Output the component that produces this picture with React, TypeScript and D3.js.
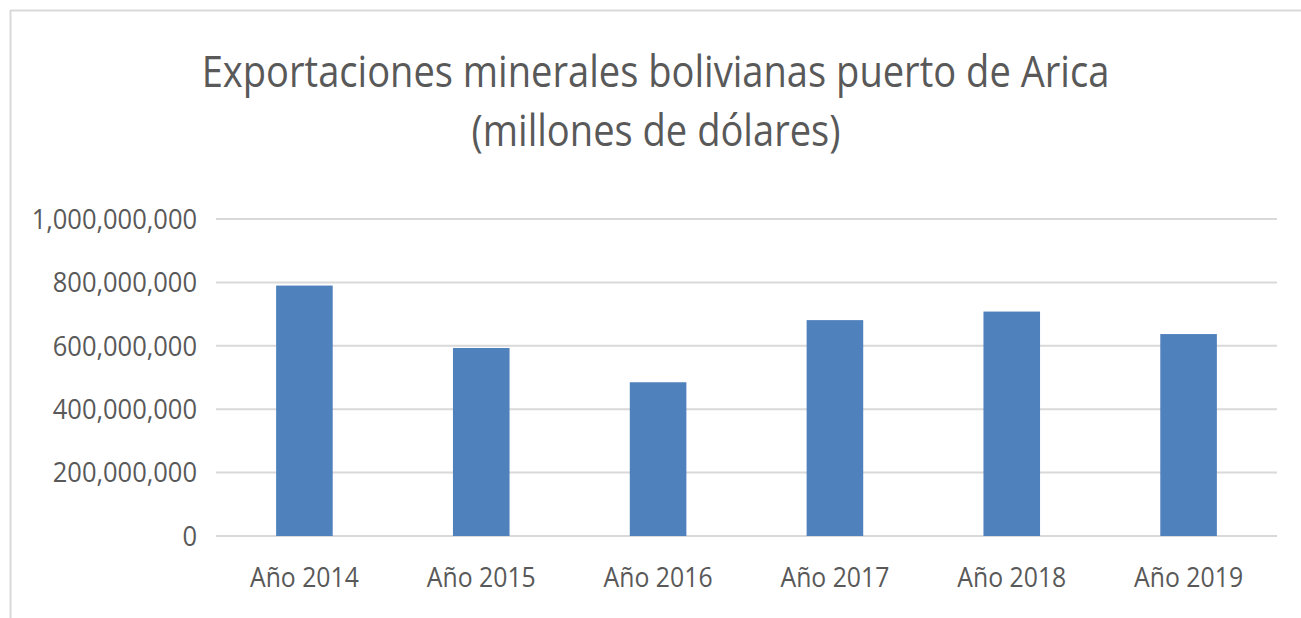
import { scaleBand, scaleLinear, format } from "d3";

const width = 1301;
const height = 618;

const years = ["Año 2014", "Año 2015", "Año 2016", "Año 2017", "Año 2018", "Año 2019"];
const exports = [790000000, 593000000, 485000000, 681000000, 708000000, 637000000];
const yTicks = [0, 200000000, 400000000, 600000000, 800000000, 1000000000];
const titleLines = ["Exportaciones minerales bolivianas puerto de Arica", "(millones de dólares)"];

const font = "'Open Sans', sans-serif";
const textColor = "#595959";

const plot = { left: 216, right: 1277, top: 219, bottom: 536 };

export default function App() {
  const xScale = scaleBand()
    .domain(years)
    .range([plot.left, plot.right])
    .paddingInner(0.68)
    .paddingOuter(0.34);

  const yScale = scaleLinear()
    .domain([0, 1000000000])
    .range([plot.bottom, plot.top]);

  const fmt = format(",");

  return (
    <svg
      width={width}
      height={height}
      style={{ position: "absolute", left: 0, top: 0 }}
      fontFamily={font}
    >
      <rect x={0} y={0} width={width} height={height} fill="#fff" />
      {/* chart frame: only top and left edges visible */}
      <line x1={10} x2={width} y1={10.5} y2={10.5} stroke="#d9d9d9" strokeWidth={2} />
      <line x1={10.5} x2={10.5} y1={10} y2={height} stroke="#d9d9d9" strokeWidth={2} />

      <g transform="translate(655.5,87) scale(0.866,1)">
        <text textAnchor="middle" fontSize={44} fill={textColor}>
          {titleLines[0]}
        </text>
      </g>
      <g transform="translate(656,146) scale(0.866,1)">
        <text textAnchor="middle" fontSize={44} fill={textColor}>
          {titleLines[1]}
        </text>
      </g>

      {yTicks.map((t) => (
        <g key={t}>
          <line
            x1={plot.left}
            x2={plot.right}
            y1={yScale(t)}
            y2={yScale(t)}
            stroke="#d9d9d9"
            strokeWidth={2}
          />
          <g transform={`translate(197,${yScale(t)}) scale(0.91,1)`}>
            <text dy="0.35em" textAnchor="end" fontSize={28} fill={textColor}>
              {fmt(t)}
            </text>
          </g>
        </g>
      ))}

      {years.map((y, i) => (
        <g key={y}>
          <rect
            x={xScale(y)}
            y={yScale(exports[i])}
            width={xScale.bandwidth()}
            height={yScale(0) - yScale(exports[i])}
            fill="#4f81bd"
          />
          <g transform={`translate(${(xScale(y) ?? 0) + xScale.bandwidth() / 2},587) scale(0.886,1)`}>
            <text textAnchor="middle" fontSize={28} fill={textColor}>
              {y}
            </text>
          </g>
        </g>
      ))}
    </svg>
  );
}
